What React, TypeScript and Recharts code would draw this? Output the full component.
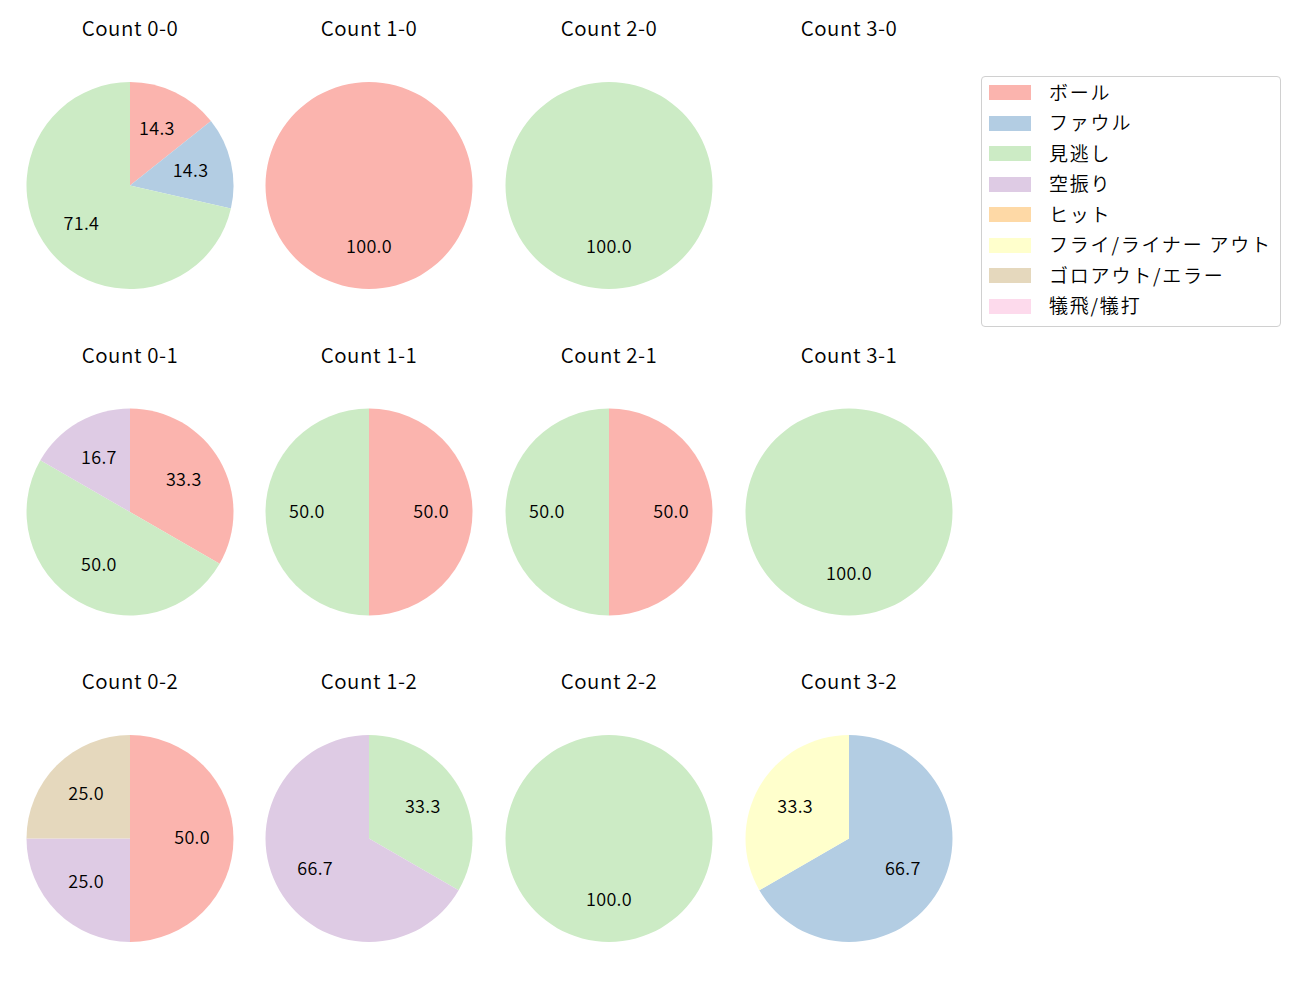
import React from 'react';
import { PieChart, Pie, Cell } from 'recharts';

const CATEGORIES = ['ボール', 'ファウル', '見逃し', '空振り', 'ヒット', 'フライ/ライナー アウト', 'ゴロアウト/エラー', '犠飛/犠打'];
const COLORS = ['#fbb4ae', '#b3cde3', '#ccebc5', '#decbe4', '#fed9a6', '#ffffcc', '#e5d8bd', '#fddaec'];

// rows: strikes 0..2, columns: balls 0..3
const BALLS = [0, 1, 2, 3];
const STRIKES = [0, 1, 2];

const count00 = [1, 1, 5, 0, 0, 0, 0, 0];
const count10 = [1, 0, 0, 0, 0, 0, 0, 0];
const count20 = [0, 0, 1, 0, 0, 0, 0, 0];
const count30 = [0, 0, 0, 0, 0, 0, 0, 0];
const count01 = [2, 0, 3, 1, 0, 0, 0, 0];
const count11 = [1, 0, 1, 0, 0, 0, 0, 0];
const count21 = [1, 0, 1, 0, 0, 0, 0, 0];
const count31 = [0, 0, 1, 0, 0, 0, 0, 0];
const count02 = [2, 0, 0, 1, 0, 0, 1, 0];
const count12 = [0, 0, 1, 2, 0, 0, 0, 0];
const count22 = [0, 0, 1, 0, 0, 0, 0, 0];
const count32 = [0, 2, 0, 0, 0, 1, 0, 0];

const GRID = [
  [count00, count10, count20, count30],
  [count01, count11, count21, count31],
  [count02, count12, count22, count32],
];

const COL_X = [130, 369, 609, 849];
const ROW_Y = [185.5, 512, 838.5];
const TITLE_Y = [26.5, 353.5, 679.5];
const RADIUS = 103.5;
const FONT = '"Noto Sans CJK JP", "Noto Sans", sans-serif';
const WEIGHT = 350;
const RAD = Math.PI / 180;

const renderLabel = (props: any) => {
  const { cx, cy, midAngle, percent } = props;
  const r = RADIUS * 0.6;
  const x = cx + r * Math.cos(-midAngle * RAD);
  const y = cy + r * Math.sin(-midAngle * RAD);
  return (
    <text x={x} y={y + 5.5} textAnchor="middle" fontSize={18} letterSpacing={0.3} fontFamily={FONT} fontWeight={WEIGHT} fill="#000">
      {(percent * 100).toFixed(1)}
    </text>
  );
};

export default function App() {
  const pies: any[] = [];
  const titles: any[] = [];
  STRIKES.forEach((s, ri) => {
    BALLS.forEach((b, ci) => {
      const vals = GRID[ri][ci];
      titles.push(
        <div key={`t${b}${s}`} style={{ position: 'absolute', left: COL_X[ci] - 100, top: TITLE_Y[ri] - 15, width: 200, height: 30, lineHeight: '30px', textAlign: 'center', fontFamily: FONT, fontSize: 20.5, fontWeight: WEIGHT, letterSpacing: 0.55, color: '#000' }}>
          {`Count ${b}-${s}`}
        </div>
      );
      const data = vals
        .map((v, i) => ({ name: CATEGORIES[i], value: v, color: COLORS[i] }))
        .filter((d) => d.value > 0);
      if (data.length === 0) return;
      pies.push(
        <Pie
          key={`p${b}${s}`}
          data={data}
          dataKey="value"
          nameKey="name"
          cx={COL_X[ci]}
          cy={ROW_Y[ri]}
          outerRadius={RADIUS}
          innerRadius={0}
          startAngle={90}
          endAngle={-270}
          stroke="none"
          label={renderLabel}
          labelLine={false}
          isAnimationActive={false}
        >
          {data.map((d, i) => (
            <Cell key={i} fill={d.color} stroke="none" />
          ))}
        </Pie>
      );
    });
  });

  return (
    <div style={{ position: 'absolute', left: 0, top: 0, width: 1300, height: 1000, background: '#fff' }}>
      <PieChart width={1300} height={1000} margin={{ top: 0, right: 0, bottom: 0, left: 0 }}>
        {pies}
      </PieChart>
      {titles}
      <div style={{ position: 'absolute', left: 981, top: 76, width: 298, height: 249, border: '1px solid #d0d0d0', borderRadius: 4, background: '#fff' }}>
        {CATEGORIES.map((c, i) => (
          <div key={c} style={{ position: 'absolute', left: 7, top: 8 + i * 30.5, height: 16, width: 290 }}>
            <div style={{ position: 'absolute', left: 0, top: 0, width: 42, height: 15, background: COLORS[i] }} />
            <div style={{ position: 'absolute', left: 60, top: -8.5, lineHeight: '30px', fontFamily: FONT, fontSize: 19, fontWeight: WEIGHT, letterSpacing: 1.8, whiteSpace: 'nowrap', color: '#000' }}>{c}</div>
          </div>
        ))}
      </div>
    </div>
  );
}
